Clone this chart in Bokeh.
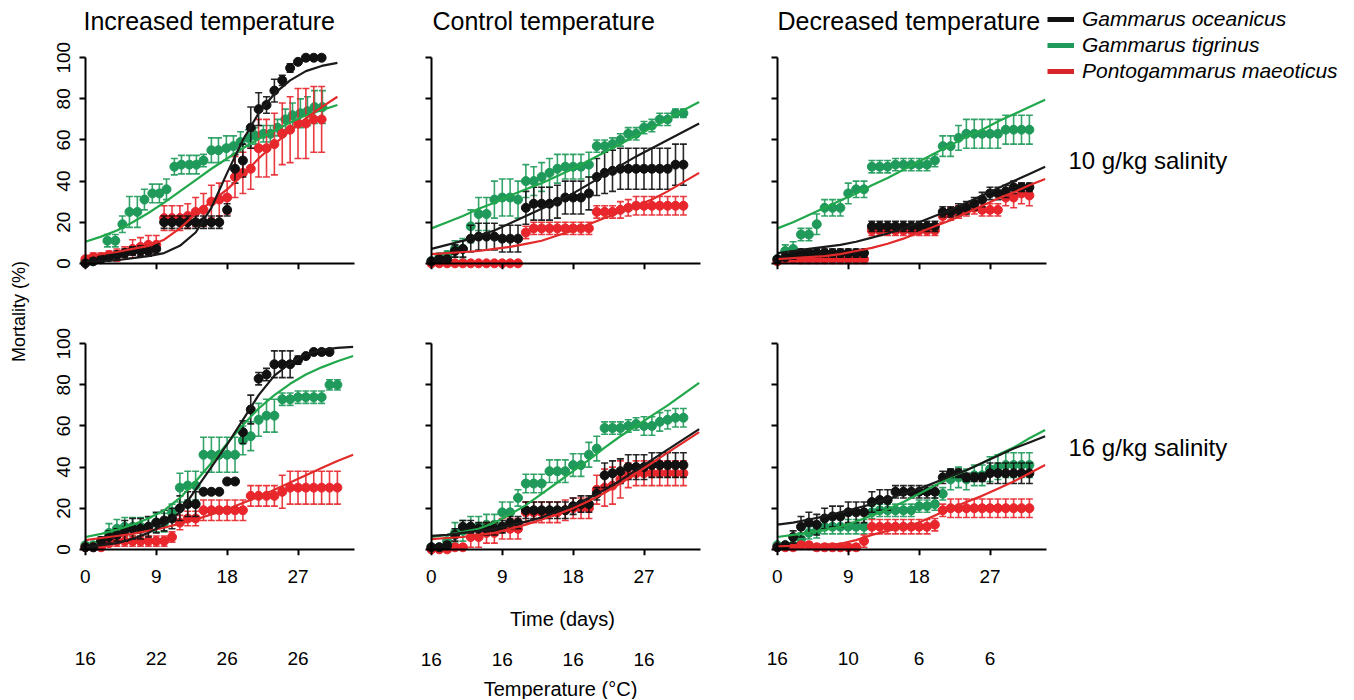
import math
from bokeh.plotting import figure
from bokeh.models import (LinearAxis, FixedTicker, Range1d, ColumnDataSource,
                          Legend, LegendItem, Label)
from bokeh.layouts import row, column
from bokeh.embed import file_html
from bokeh.resources import INLINE

# ---------------- data ----------------
species = ["Gammarus oceanicus", "Gammarus tigrinus", "Pontogammarus maeoticus"]
conditions = ["Increased temperature", "Control temperature", "Decreased temperature"]
salinities = ["10 g/kg salinity", "16 g/kg salinity"]
y_title = "Mortality (%)"
x_title = "Time (days)"
t_title = "Temperature (\u00b0C)"
day_ticks = [0, 9, 18, 27]
mort_ticks = [0, 20, 40, 60, 80, 100]
temp_increased = ["16", "22", "26", "26"]
temp_control = ["16", "16", "16", "16"]
temp_decreased = ["16", "10", "6", "6"]

days = [0, 1, 2, 3, 4, 5, 6, 7, 8, 9, 10, 11, 12, 13, 14, 15, 16, 17, 18, 19, 20,
        21, 22, 23, 24, 25, 26, 27, 28, 29, 30, 31, 32]
days_inc10_tig = [0, 0.9, 1.9, 2.8, 3.8, 4.7, 5.6, 6.6, 7.5, 8.5, 9.4, 10.3, 11.3, 12.2,
                  13.2, 14.1, 15.0, 16.0, 16.9, 17.9, 18.8, 19.7, 20.7, 21.6, 22.6, 23.5,
                  24.4, 25.4, 26.3, 27.3, 28.2, 29.1, 30.1]
fit_x_inc10 = [0, 2, 4, 6, 8, 10, 12, 14, 16, 18, 20, 22, 24, 26, 28, 30, 32]
fit_x = [0, 2, 4, 6, 8, 10, 12, 14, 16, 18, 20, 22, 24, 26, 28, 30, 32, 34]

# Increased temperature, 10 g/kg
inc10_oce = [0, 1, 2, 3, 4, 5, 6, 6, 6, 7, 20, 20, 20, 20, 20, 20, 20, 20, 26, 46, 50, 66,
             75, 77, 84, 89, 95, 98, 100, 100, 100]
inc10_oce_err = [0.5, 1, 1, 1.5, 2, 2, 2, 2.5, 2.5, 2.5, 3, 3, 3, 3, 3, 3, 3, 3, 3, 7, 8, 10,
                 8, 4, 5.5, 2.5, 2, 1, 0, 0, 0]
inc10_tig = [1, 1, 2, 11, 11, 19, 25, 25, 31, 34, 34, 36, 47, 48, 48, 48, 50, 55, 55, 56, 57,
             59, 61, 62, 63, 63, 66, 70, 72, 73, 74, 76, 76]
inc10_tig_err = [1, 1, 1.5, 3, 3, 4, 7.5, 7.5, 5, 4.5, 4.5, 5, 4, 4.5, 4.5, 4.5, 3, 6, 6, 6,
                 5, 5, 4, 4, 4, 4, 4, 5, 6, 7, 7, 8, 8]
inc10_pon = [2, 3, 3, 4, 4, 5, 7, 8, 9, 9, 22, 22, 22, 23, 25, 26, 30, 31, 32, 42, 44, 46, 56,
             56, 58, 63, 65, 68, 68, 70, 70]
inc10_pon_err = [1, 2, 2, 2, 3, 3, 4.5, 4.5, 4.5, 4.5, 6, 6, 6, 6, 7, 8, 8, 8, 8, 10, 10, 10,
                 14, 14, 15, 15, 16, 17, 17, 16, 16]
fit_inc10_oce = [0.5, 1, 1.5, 2.5, 3.5, 5, 8.5, 15, 27, 44, 60, 73, 82.5, 89, 93.5, 96, 97.5]
fit_inc10_tig = [10.5, 13, 16, 20, 24.5, 29.5, 35, 40.5, 46, 51, 56, 60.5, 64.5, 68.5, 72,
                 74.5, 77]
fit_inc10_pon = [3.5, 4.5, 5.5, 7, 8.5, 11.5, 17, 24, 30, 36, 43, 51, 58, 64.5, 70.5, 76, 81]

# Control temperature, 10 g/kg
ctl10_oce = [1, 2, 2, 6, 7, 12, 13, 13, 13, 12, 12, 12, 27, 29, 29, 29, 30, 32, 32, 32, 34,
             42, 44, 45, 46, 46, 46, 46, 46, 46, 46, 48, 48]
ctl10_oce_err = [1, 1, 1, 3, 4, 6.5, 6.5, 6.5, 6.5, 6.5, 6.5, 6.5, 8, 8, 8, 8, 8, 8, 8, 8, 8,
                 9, 10, 10, 10, 10, 10, 10, 10, 10, 10, 10, 10]
ctl10_tig = [1, 3, 4, 7, 7, 18, 24, 24, 31, 32, 32, 31, 40, 40, 42, 44, 46, 47, 47, 47, 48,
             57, 57, 58, 60, 63, 63, 66, 67, 70, 70, 73, 73]
ctl10_tig_err = [1, 2, 2, 4, 5, 8, 8, 8, 9, 9, 9, 9, 8, 7, 7, 7, 7, 6, 6, 6, 6, 3, 3, 3, 3, 3,
                 3, 3, 3, 3, 3, 2, 2]
ctl10_pon = [0, 0, 0, 0, 0, 0, 0, 0, 0, 0, 0, 0, 15, 17, 17, 17, 17, 17, 17, 17, 17, 25, 25,
             25, 26, 27, 28, 28, 28, 28, 28, 28, 28]
ctl10_pon_err = [0.8, 0.8, 0.8, 0.8, 0.8, 0.8, 0.8, 0.8, 0.8, 0.8, 0.8, 0.8, 3, 3, 3, 3, 3, 3,
                 3, 3, 3, 3, 3, 3, 4, 4, 4.5, 4.5, 4.5, 4.5, 4.5, 4.5, 4.5]
fit_ctl10_oce = [7, 9, 11, 13.5, 16, 19.5, 23, 26.5, 30, 34, 38.5, 43, 47.5, 52, 56, 60, 64, 68]
fit_ctl10_tig = [17, 20, 23, 26.5, 29.5, 33, 36, 39, 42.5, 46, 50, 54, 58, 62, 66, 70, 74.5,
                 78.5]
fit_ctl10_pon = [4.5, 5, 5.5, 6, 7, 8, 9.5, 11, 13.5, 16, 19, 22, 25, 28, 31, 35, 39.5, 44]

# Decreased temperature, 10 g/kg
dec10_oce = [2, 3, 4, 5, 5, 5, 5, 5, 5, 5, 5, 5, 18, 18, 18, 18, 18, 18, 18, 18, 18, 25, 25,
             26, 27, 29, 31, 34, 34, 35, 37, 37, 37]
dec10_oce_err = [1, 1.5, 2, 2, 2, 2, 2, 2, 2, 2, 2, 2, 2.5, 2.5, 2.5, 2.5, 2.5, 2.5, 2.5, 2.5,
                 2.5, 2.5, 2.5, 3, 3, 3, 3.5, 3, 3, 3, 3, 2, 2]
dec10_tig = [2, 6, 7, 14, 14, 19, 27, 27, 27, 34, 36, 36, 47, 47, 47, 48, 48, 48, 48, 48, 50,
             57, 57, 61, 63, 63, 63, 63, 63, 65, 65, 65, 65]
dec10_tig_err = [1, 3, 3.5, 3, 3, 5, 4, 4, 4, 5, 4, 4, 3, 3, 3, 3, 3, 3, 3, 3, 3, 5, 5, 6, 7, 7,
                 7, 7, 7, 7, 7, 7, 7]
dec10_pon = [1, 2, 2, 2, 2, 2, 2, 2, 2, 2, 2, 2, 16, 16, 16, 16, 16, 16, 16, 16, 16, 23, 24, 25,
             26, 27, 26, 26, 26, 32, 32, 34, 33]
dec10_pon_err = [1, 1, 1.5, 2, 2, 2, 2, 2, 2, 2, 2, 2, 2.5, 2.5, 2.5, 2.5, 2.5, 2.5, 2.5, 2.5,
                 2.5, 3, 3, 3, 3, 3, 3, 3, 3, 4, 5, 5, 5]
fit_dec10_oce = [5, 6, 7, 8, 9, 10.5, 12.5, 14.5, 17, 20, 23, 26, 29.5, 33, 36.5, 40, 43.5, 47]
fit_dec10_tig = [17, 20, 23.5, 27, 30.5, 34, 38, 41.5, 45.5, 49.5, 53.5, 57.5, 61.5, 65, 69,
                 72.5, 76, 79.5]
fit_dec10_pon = [2, 2.5, 3, 3.5, 4.5, 6, 7.5, 9.5, 12, 15, 18, 21, 24.5, 28, 31.5, 34.5, 38, 41]

# Increased temperature, 16 g/kg
inc16_oce = [1, 1, 4, 6, 7, 9, 10, 10, 11, 13, 14, 15, 20, 22, 22, 28, 28, 28, 33, 33, 57, 68,
             83, 85, 90, 90, 90, 92, 94, 96, 96, 96]
inc16_oce_err = [1, 1, 2, 3, 3, 5, 5, 5, 5, 5, 5, 5, 6, 6, 6, 1, 1, 1, 1, 1, 5.5, 7, 3, 3, 6.5,
                 6.5, 6.5, 2, 1, 1, 1, 1]
inc16_tig = [2, 2, 4, 8, 10, 11, 11, 11, 11, 13, 13, 18, 30, 31, 31, 46, 46, 46, 46, 46, 53,
             55, 63, 65, 65, 73, 73, 74, 74, 74, 74, 80, 80]
inc16_tig_err = [1, 1, 2, 4.5, 4.5, 4.5, 4.5, 4.5, 4.5, 4.5, 4.5, 4, 7, 7, 7, 8.5, 8.5, 8.5,
                 8.5, 8.5, 7, 7, 8, 8, 8, 3, 3, 3, 3, 3, 3, 2.5, 2.5]
inc16_pon = [1, 1, 1, 3, 4, 4, 4, 4, 4, 4, 4, 6, 13, 15, 15, 19, 19, 19, 19, 19, 19, 26, 26, 26,
             26, 28, 30, 30, 30, 30, 30, 30, 30]
inc16_pon_err = [1, 1, 1, 1.5, 2.5, 2.5, 2.5, 2.5, 2.5, 2.5, 2.5, 2.5, 3.5, 3.5, 3.5, 5, 5, 5,
                 5, 5, 5, 5, 5, 5, 5, 8, 8, 8, 8, 8, 8, 8, 8]
fit_inc16_oce = [1, 2, 3, 5, 8, 12, 18, 29, 40, 51, 63, 75, 84.5, 90.5, 95, 97, 98, 98.5]
fit_inc16_tig = [6, 7.5, 9.5, 12, 15, 19, 25, 33, 42, 51.5, 60.5, 68.5, 75, 80.5, 85, 88.5,
                 91.5, 94]
fit_inc16_pon = [4.5, 5.5, 6.5, 7.5, 9, 10.5, 12.5, 14.5, 17, 19.5, 22.5, 25.5, 29, 32.5, 36,
                 39.5, 43, 46]

# Control temperature, 16 g/kg
ctl16_oce = [1, 1, 2, 7, 11, 11, 10, 10, 10, 11, 13, 13, 19, 19, 19, 19, 19, 19, 21, 22, 22,
             27, 36, 37, 38, 40, 40, 40, 41, 41, 41, 41, 41]
ctl16_oce_err = [1, 1, 1.5, 3, 3, 3, 3, 3, 3, 3, 3, 3, 4, 4, 4, 4, 4, 4, 4, 4, 4, 3, 6, 6, 6, 6,
                 6, 6, 6, 6, 6, 6, 6]
ctl16_tig = [1, 1, 4, 8, 9, 11, 11, 12, 12, 18, 18, 25, 32, 32, 32, 38, 38, 38, 41, 41, 46, 49,
             59, 59, 59, 60, 61, 60, 60, 62, 63, 64, 64]
ctl16_tig_err = [1, 1, 1.5, 5, 5, 5, 5, 5, 5, 5, 5, 4, 4.5, 4.5, 4.5, 5.5, 5.5, 5.5, 5.5, 5.5,
                 6, 6, 3, 3, 3, 3, 3, 4.5, 4.5, 4.5, 4.5, 4.5, 4.5]
ctl16_pon = [0, 0, 0, 1, 1, 6, 6, 8, 8, 10, 10, 10, 18, 18, 18, 18, 18, 19, 20, 20, 20, 29, 30,
             31, 34, 36, 37, 37, 37, 37, 37, 37, 37]
ctl16_pon_err = [0.5, 0.5, 0.5, 1, 1, 5, 5, 5, 5, 5, 5, 5, 5, 5, 5, 5, 5, 5, 5, 5, 5, 7, 9, 9,
                 9, 6, 6, 6, 6, 6, 6, 6, 6]
fit_ctl16_oce = [6.5, 7, 8, 9, 10, 11.5, 13.5, 15.5, 18.5, 21.5, 25, 29, 33.5, 38.5, 43.5, 48.5,
                 53.5, 58.5]
fit_ctl16_tig = [6, 7, 8.5, 10, 13, 17, 21.5, 27, 32.5, 38, 43.5, 49.5, 55, 60, 65, 70, 75.5, 81]
fit_ctl16_pon = [5, 5.5, 6, 7, 8, 10, 12, 14.5, 17, 20, 23.5, 27.5, 32, 37, 42, 47, 52, 57]

# Decreased temperature, 16 g/kg
dec16_oce = [1, 2, 6, 11, 13, 12, 15, 16, 16, 18, 18, 18, 23, 24, 24, 28, 28, 28, 28, 28, 28,
             35, 37, 37, 35, 35, 35, 37, 37, 37, 37, 37, 37]
dec16_oce_err = [1, 1, 3, 5, 5, 5, 5, 5, 5, 5, 5, 5, 5, 5, 5, 3, 3, 3, 3, 3, 3, 3, 2, 2, 2, 2,
                 2, 5, 5, 5, 5, 5, 5]
dec16_tig = [2, 2, 2, 5, 8, 9, 11, 11, 11, 11, 11, 11, 18, 19, 19, 19, 19, 19, 21, 21, 22, 27,
             34, 35, 34, 36, 36, 39, 40, 41, 41, 41, 41]
dec16_tig_err = [1, 1, 1, 3, 3, 3.5, 3.5, 3.5, 3.5, 3.5, 3.5, 3.5, 3, 3, 3, 3, 3, 3, 3, 3, 3, 3,
                 5, 5, 5, 5, 5, 6, 6, 6, 6, 6, 6]
dec16_pon = [1, 1, 1, 2, 2, 1, 1, 1, 1, 1, 1, 4, 11, 11, 11, 11, 11, 11, 11, 11, 12, 19, 20, 20,
             20, 20, 20, 20, 20, 20, 20, 20, 20]
dec16_pon_err = [1, 1, 1, 1.5, 1.5, 1.5, 1.5, 1.5, 1.5, 1.5, 1.5, 3, 3.5, 3.5, 3.5, 3.5, 3.5,
                 3.5, 3.5, 3.5, 3, 3, 4.5, 4.5, 4.5, 4.5, 4.5, 4.5, 4.5, 4.5, 4.5, 4.5, 4.5]
fit_dec16_oce = [12, 13, 14.5, 16, 18, 20, 22, 24.5, 27, 29.5, 32.5, 35.5, 38.5, 42, 45.5, 49,
                 52, 55]
fit_dec16_tig = [6, 7, 8, 9.5, 11, 13.5, 16.5, 19.5, 23, 27, 31, 35, 38.5, 42, 46, 49.5, 54, 58]
fit_dec16_pon = [1.5, 1.7, 2, 2.3, 2.7, 4.5, 7, 9, 11, 13, 16.5, 20, 23, 26, 29.5, 33, 37, 41]

# ---------------- style ----------------
FONT = "Liberation Sans"
COL_OCE = "#111111"
COL_TIG = "#1f9a5a"
COL_PON = "#e8262c"
LINE_OCE = "#1a1a1a"
LINE_TIG = "#22a84c"
LINE_PON = "#e32a2a"

FRAME_W = 278
FRAME_H = 220
X_START, X_END = -1, 34.3
Y_START, Y_END = -3, 104

TOTAL_H = 699
TITLE_H = 36
TOP_T, TOP_B = 49 - TITLE_H, 19
BOT_T, BOT_B = 47, 120
BOTTOM_STRIP_H = TOTAL_H - (TITLE_H + TOP_T + FRAME_H + TOP_B + BOT_T + FRAME_H + BOT_B)

L1, L2, L3 = 41, 46, 46
R1, R2, R3 = 22, 22, 0
LW = 36
RW = 300


def add_series(p, t, v, e, color):
    lo = [a - b for a, b in zip(v, e)]
    hi = [a + b for a, b in zip(v, e)]
    src = ColumnDataSource(dict(t=t[:len(v)], v=v, lo=lo, hi=hi))
    p.segment(x0="t", y0="lo", x1="t", y1="hi", source=src, line_color=color,
              line_width=1.6, line_alpha=0.9)
    p.scatter(x="t", y="lo", source=src, marker="dash", size=7, line_color=color,
              line_width=1.6, line_alpha=0.9)
    p.scatter(x="t", y="hi", source=src, marker="dash", size=7, line_color=color,
              line_width=1.6, line_alpha=0.9)
    p.scatter(x="t", y="v", source=src, marker="circle", size=9, fill_color=color,
              line_color=color)


def text_style(ax, size="19px"):
    ax.major_label_text_font = FONT
    ax.major_label_text_font_size = size
    ax.major_label_text_color = "black"
    ax.axis_label_text_font = FONT
    ax.axis_label_text_font_size = "20px"
    ax.axis_label_text_font_style = "normal"
    ax.axis_label_text_color = "black"


def make_panel(data, fits, fx, left, right, top, bottom, ylabels, bottom_row, temps=None,
               middle=False):
    p = figure(width=left + FRAME_W + right, height=top + FRAME_H + bottom,
               x_range=Range1d(X_START, X_END), y_range=Range1d(Y_START, Y_END),
               x_axis_type=None, y_axis_type=None, toolbar_location=None,
               output_backend="svg",
               min_border_left=left, min_border_right=right,
               min_border_top=top, min_border_bottom=bottom)
    p.outline_line_color = None
    p.background_fill_color = "white"
    p.border_fill_color = "white"

    # ---- label-only axes at the frame edges (drawn outside the frame)
    if ylabels:
        ylab = LinearAxis(ticker=FixedTicker(ticks=mort_ticks), axis_line_color=None,
                          major_tick_line_color=None, minor_tick_line_color=None,
                          major_tick_out=0, major_tick_in=0,
                          major_label_orientation="vertical", major_label_standoff=7)
        text_style(ylab)
        p.add_layout(ylab, "left")
    if bottom_row:
        xlab = LinearAxis(ticker=FixedTicker(ticks=day_ticks),
                          axis_line_color=None, major_tick_line_color=None,
                          minor_tick_line_color=None, major_tick_out=0, major_tick_in=0,
                          major_label_standoff=14)
        text_style(xlab)
        if middle:
            xlab.axis_label = x_title
            xlab.axis_label_standoff = 22
        p.add_layout(xlab, "below")
        tax = LinearAxis(ticker=FixedTicker(ticks=day_ticks),
                         axis_line_color=None, major_tick_line_color=None,
                         minor_tick_line_color=None, major_tick_out=0, major_tick_in=0,
                         major_label_overrides={d: s for d, s in zip(day_ticks, temps)},
                         major_label_standoff=20 if middle else 66)
        text_style(tax)
        p.add_layout(tax, "below")

    # ---- axis lines and ticks crossing at the data origin
    yax = LinearAxis(ticker=FixedTicker(ticks=mort_ticks), bounds=(0, 100), fixed_location=0,
                     axis_line_width=2, axis_line_color="black",
                     major_tick_line_width=2, major_tick_out=6, major_tick_in=0,
                     minor_tick_line_color=None, major_label_standoff=0,
                     major_label_overrides={t: "" for t in mort_ticks},
                     major_label_text_font_size="1px")
    p.add_layout(yax, "left")
    xax = LinearAxis(ticker=FixedTicker(ticks=day_ticks), bounds=(0, 34.2), fixed_location=0,
                     axis_line_width=2, axis_line_color="black",
                     major_tick_line_width=2, major_tick_out=6, major_tick_in=0,
                     minor_tick_line_color=None, major_label_standoff=0,
                     major_label_overrides={t: "" for t in day_ticks},
                     major_label_text_font_size="1px")
    p.add_layout(xax, "below")

    (t_o, v_o, e_o), (t_t, v_t, e_t), (t_p, v_p, e_p) = data
    add_series(p, t_t, v_t, e_t, COL_TIG)
    add_series(p, t_p, v_p, e_p, COL_PON)
    add_series(p, t_o, v_o, e_o, COL_OCE)
    f_o, f_t, f_p = fits
    p.line(fx, f_t, line_color=LINE_TIG, line_width=2.2)
    p.line(fx, f_p, line_color=LINE_PON, line_width=2.2)
    p.line(fx, f_o, line_color=LINE_OCE, line_width=2.2)
    return p


f1 = make_panel([(days, inc10_oce, inc10_oce_err), (days_inc10_tig, inc10_tig, inc10_tig_err),
                 (days, inc10_pon, inc10_pon_err)],
                (fit_inc10_oce, fit_inc10_tig, fit_inc10_pon), fit_x_inc10,
                L1, R1, TOP_T, TOP_B, True, False)
f2 = make_panel([(days, ctl10_oce, ctl10_oce_err), (days, ctl10_tig, ctl10_tig_err),
                 (days, ctl10_pon, ctl10_pon_err)],
                (fit_ctl10_oce, fit_ctl10_tig, fit_ctl10_pon), fit_x,
                L2, R2, TOP_T, TOP_B, False, False)
f3 = make_panel([(days, dec10_oce, dec10_oce_err), (days, dec10_tig, dec10_tig_err),
                 (days, dec10_pon, dec10_pon_err)],
                (fit_dec10_oce, fit_dec10_tig, fit_dec10_pon), fit_x,
                L3, R3, TOP_T, TOP_B, False, False)
f4 = make_panel([(days, inc16_oce, inc16_oce_err), (days, inc16_tig, inc16_tig_err),
                 (days, inc16_pon, inc16_pon_err)],
                (fit_inc16_oce, fit_inc16_tig, fit_inc16_pon), fit_x,
                L1, R1, BOT_T, BOT_B, True, True, temps=temp_increased)
f5 = make_panel([(days, ctl16_oce, ctl16_oce_err), (days, ctl16_tig, ctl16_tig_err),
                 (days, ctl16_pon, ctl16_pon_err)],
                (fit_ctl16_oce, fit_ctl16_tig, fit_ctl16_pon), fit_x,
                L2, R2, BOT_T, BOT_B, False, True, temps=temp_control, middle=True)
f6 = make_panel([(days, dec16_oce, dec16_oce_err), (days, dec16_tig, dec16_tig_err),
                 (days, dec16_pon, dec16_pon_err)],
                (fit_dec16_oce, fit_dec16_tig, fit_dec16_pon), fit_x,
                L3, R3, BOT_T, BOT_B, False, True, temps=temp_decreased)

TW = (L1 + FRAME_W + R1) + (L2 + FRAME_W + R2) + (L3 + FRAME_W + R3)


def strip(width, height, top=0):
    s = figure(width=width, height=height, x_range=Range1d(0, width),
               y_range=Range1d(0, height - top), x_axis_type=None, y_axis_type=None,
               min_border=0, min_border_top=top, toolbar_location=None,
               output_backend="svg")
    s.outline_line_color = None
    return s


# title strip across the three columns
ft = strip(TW, TITLE_H)
for cond, tx in zip(conditions, [47, 396, 741]):
    ft.add_layout(Label(x=tx, y=TITLE_H - 20, text=cond, text_baseline="middle",
                        text_font=FONT, text_font_size="25px", text_color="black"))

# bottom strip with the temperature axis title
fb = strip(TW, BOTTOM_STRIP_H)
fb.add_layout(Label(x=560 - LW, y=TOTAL_H - 688, text=t_title, text_align="center",
                    text_baseline="middle", text_font=FONT, text_font_size="20px",
                    text_color="black"))

# left strip with the shared y-axis title
fl = strip(LW, TOTAL_H)
fl.add_layout(Label(x=18, y=TOTAL_H - 307, text=y_title, angle=math.pi / 2,
                    text_align="center", text_baseline="middle", text_font=FONT,
                    text_font_size="18px", text_color="black"))

# right strip: legend + salinity labels
RT = 7
fr = strip(RW, TOTAL_H, top=RT)
r_o = fr.line(x=[-20, -10], y=[-20, -20], line_color=COL_OCE, line_width=5)
r_t = fr.line(x=[-20, -10], y=[-20, -20], line_color=COL_TIG, line_width=5)
r_p = fr.line(x=[-20, -10], y=[-20, -20], line_color="#d7262b", line_width=5)
legend = Legend(items=[LegendItem(label=species[0], renderers=[r_o]),
                       LegendItem(label=species[1], renderers=[r_t]),
                       LegendItem(label=species[2], renderers=[r_p])],
                location="top_left", glyph_width=27, glyph_height=20, label_height=20,
                spacing=2, padding=0, margin=0, label_standoff=8,
                label_text_font=FONT, label_text_font_size="21px",
                label_text_font_style="italic", label_text_color="black",
                border_line_color=None, background_fill_alpha=0)
fr.add_layout(legend)
fr.add_layout(Label(x=21, y=TOTAL_H - 160, text=salinities[0], text_baseline="middle",
                    text_font=FONT, text_font_size="24px", text_color="black"))
fr.add_layout(Label(x=21, y=TOTAL_H - 447, text=salinities[1], text_baseline="middle",
                    text_font=FONT, text_font_size="24px", text_color="black"))

layout = row(fl, column(ft, row(f1, f2, f3), row(f4, f5, f6), fb), fr)

open("out.html", "w").write(file_html(layout, INLINE))
